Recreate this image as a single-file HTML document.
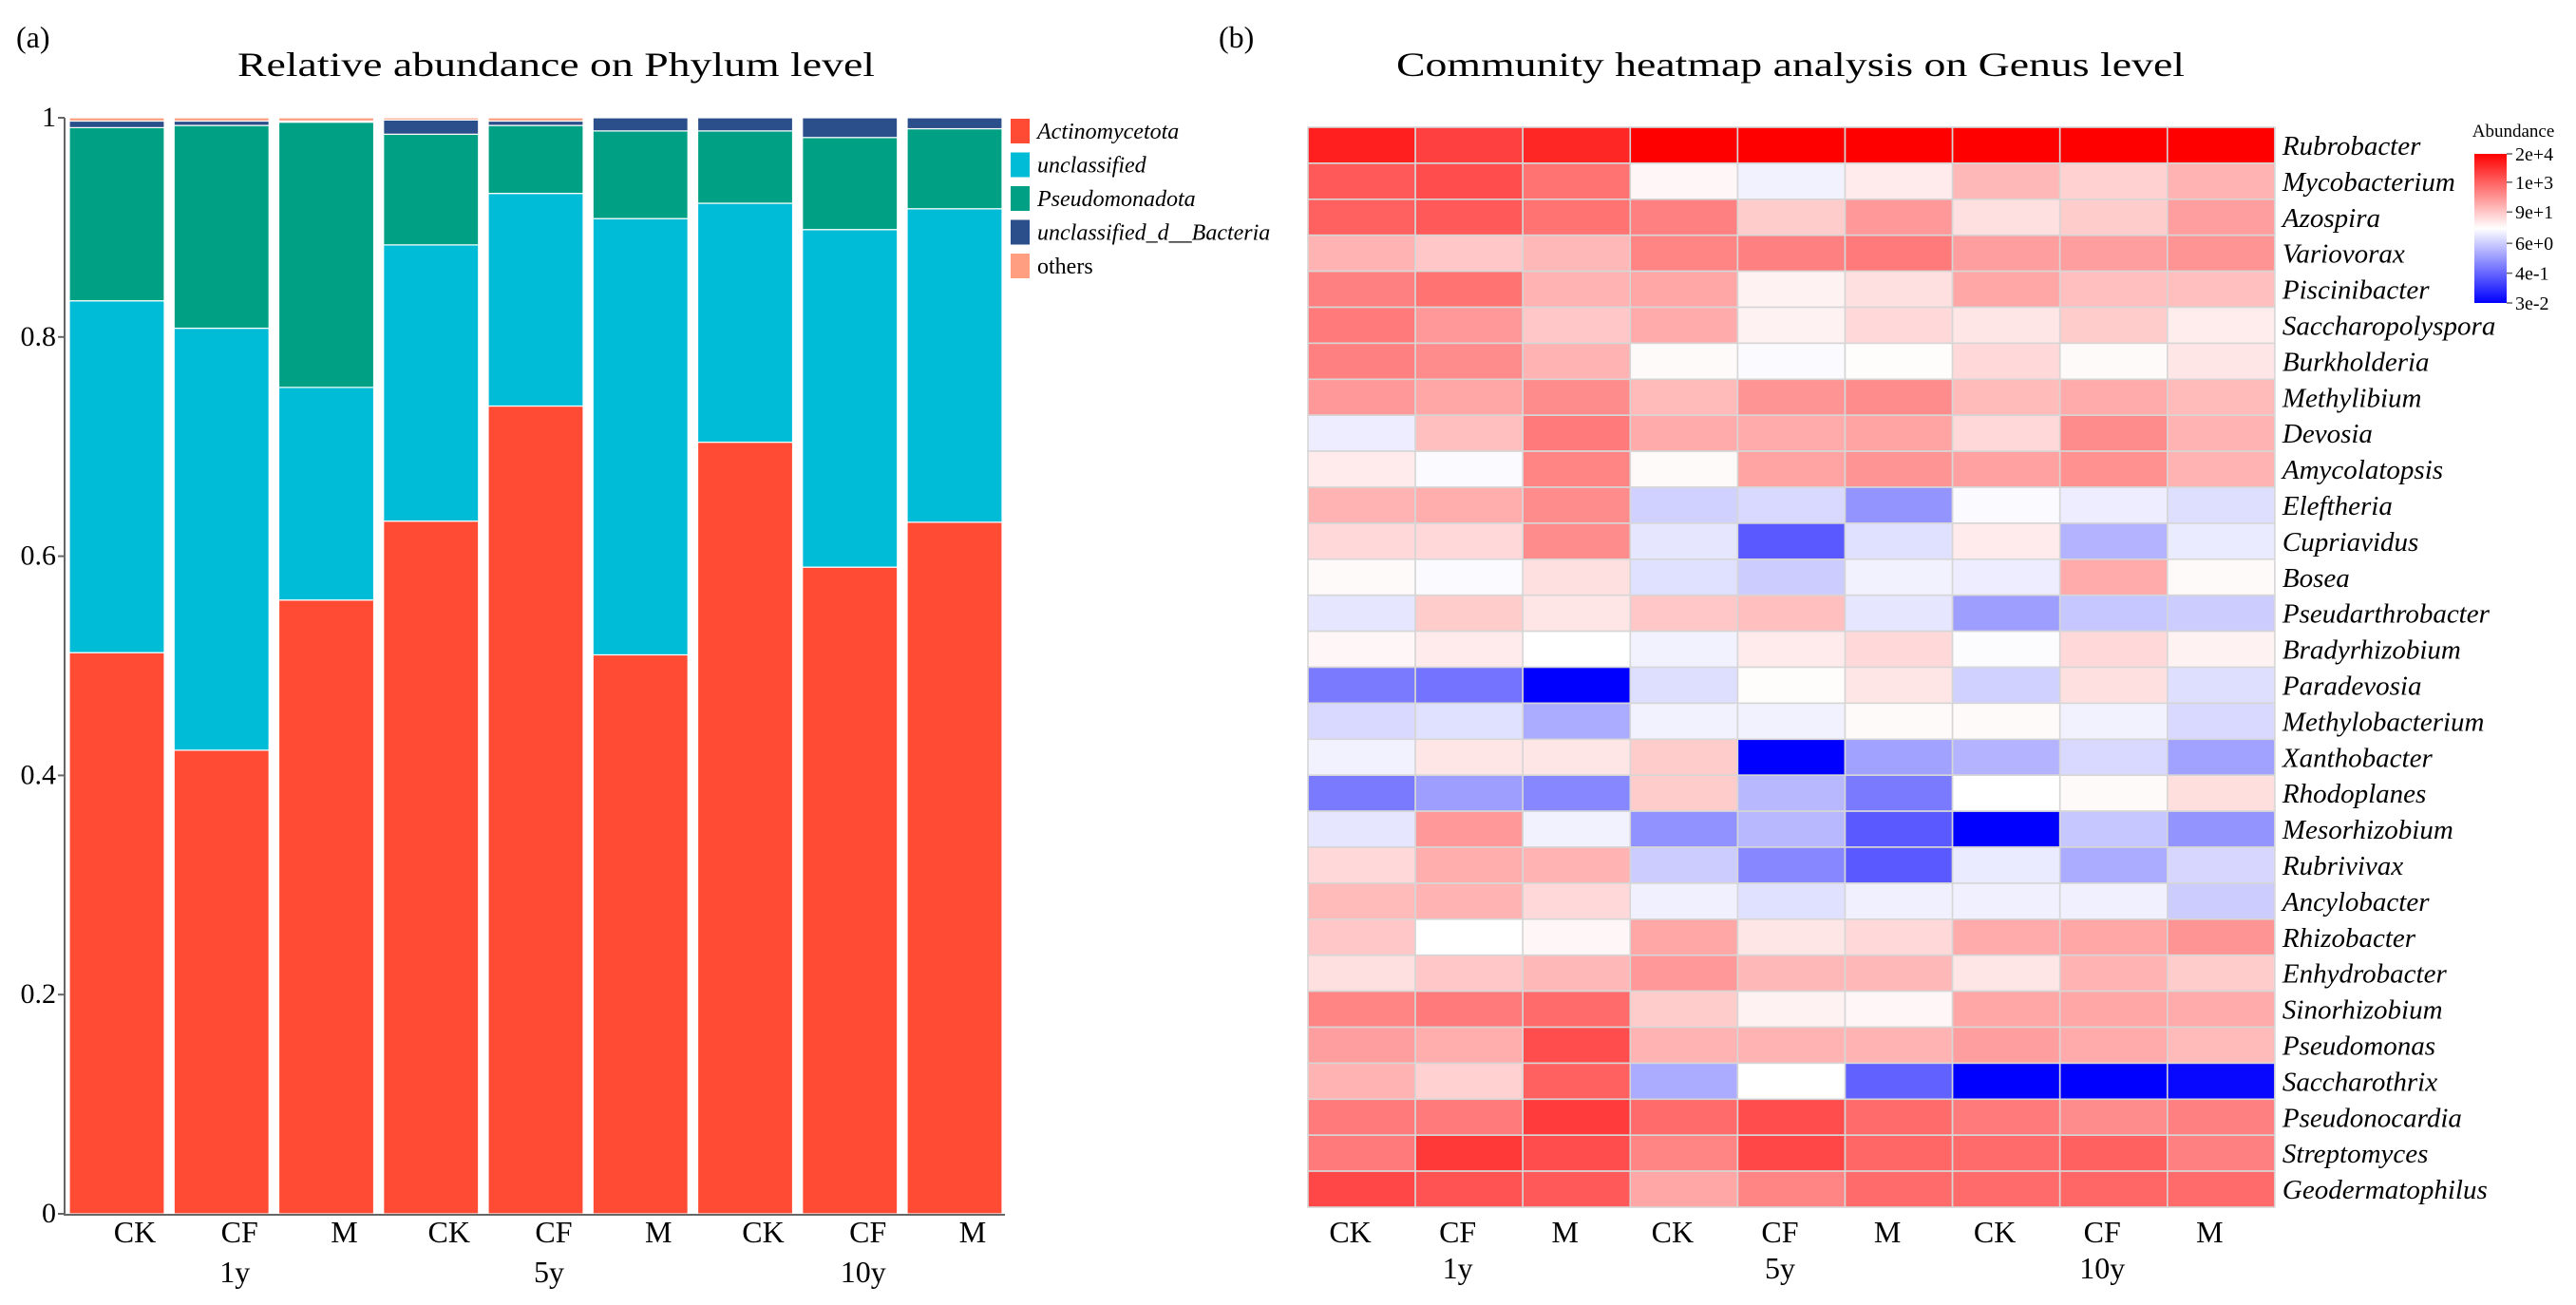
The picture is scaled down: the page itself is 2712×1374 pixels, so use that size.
<!DOCTYPE html>
<html><head><meta charset="utf-8"><style>
html,body{margin:0;padding:0;background:#fff;}
svg{display:block;font-family:"Liberation Serif",serif;}
</style></head><body>
<svg id="chart" width="2712" height="1374" viewBox="0 0 2712 1374" xmlns="http://www.w3.org/2000/svg">
<text x="17" y="50" font-size="32">(a)</text>
<text x="1283" y="50" font-size="32">(b)</text>
<text x="250" y="80" font-size="36" textLength="671" lengthAdjust="spacingAndGlyphs">Relative abundance on Phylum level</text>
<text x="1470" y="80" font-size="36" textLength="830" lengthAdjust="spacingAndGlyphs">Community heatmap analysis on Genus level</text>
<g id="bars"></g>
<g id="legend"></g>
<g id="heat"></g>
<g id="cbar"></g>
</svg>
<script>
// ---- Bar chart data ----
const barSamples = ["CK","CF","M","CK","CF","M","CK","CF","M"];
const groupLabels = ["1y","5y","10y"];
const phyla = ["Actinomycetota","unclassified","Pseudomonadota","unclassified_d__Bacteria","others"];
const actinomycetota = [0.512,0.423,0.560,0.632,0.737,0.510,0.704,0.590,0.631];
const unclassified   = [0.321,0.385,0.194,0.252,0.194,0.398,0.218,0.308,0.286];
const pseudomonadota = [0.158,0.185,0.242,0.101,0.062,0.080,0.066,0.084,0.073];
const bacteriaUncl   = [0.006,0.004,0.001,0.013,0.004,0.012,0.012,0.018,0.010];
const others         = [0.003,0.003,0.003,0.002,0.003,0.000,0.000,0.000,0.000];
const yTicks = [0,0.2,0.4,0.6,0.8,1];
const yTickLabels = ["0","0.2","0.4","0.6","0.8","1"];

// ---- Heatmap data (row-scaled abundance, -1 = min/blue, 1 = max/red) ----
const genera = ["Rubrobacter","Mycobacterium","Azospira","Variovorax","Piscinibacter","Saccharopolyspora","Burkholderia","Methylibium","Devosia","Amycolatopsis","Eleftheria","Cupriavidus","Bosea","Pseudarthrobacter","Bradyrhizobium","Paradevosia","Methylobacterium","Xanthobacter","Rhodoplanes","Mesorhizobium","Rubrivivax","Ancylobacter","Rhizobacter","Enhydrobacter","Sinorhizobium","Pseudomonas","Saccharothrix","Pseudonocardia","Streptomyces","Geodermatophilus"];
const heatSamples = ["CK","CF","M","CK","CF","M","CK","CF","M"];
const scaledAbundance = [
[0.88,0.75,0.85,1,1,1,1,1,1],
[0.65,0.7,0.55,0.03,-0.05,0.08,0.28,0.18,0.3],
[0.62,0.65,0.55,0.5,0.2,0.4,0.12,0.2,0.38],
[0.3,0.22,0.28,0.48,0.5,0.52,0.38,0.38,0.42],
[0.5,0.55,0.3,0.35,0.05,0.12,0.35,0.25,0.25],
[0.52,0.4,0.22,0.33,0.05,0.15,0.1,0.2,0.07],
[0.5,0.45,0.3,0.02,-0.02,0.01,0.15,0.02,0.1],
[0.4,0.35,0.45,0.27,0.42,0.45,0.27,0.33,0.27],
[-0.07,0.25,0.52,0.33,0.33,0.36,0.15,0.45,0.3],
[0.08,-0.02,0.48,0.02,0.36,0.42,0.37,0.43,0.3],
[0.3,0.32,0.45,-0.18,-0.15,-0.42,-0.02,-0.07,-0.13],
[0.15,0.15,0.45,-0.1,-0.65,-0.12,0.08,-0.3,-0.08],
[0.02,-0.02,0.12,-0.12,-0.2,-0.05,-0.07,0.33,0.02],
[-0.1,0.2,0.1,0.22,0.25,-0.1,-0.38,-0.22,-0.2],
[0.03,0.08,0.0,-0.05,0.08,0.15,-0.01,0.15,0.05],
[-0.52,-0.55,-1.0,-0.13,0.01,0.1,-0.18,0.12,-0.13],
[-0.15,-0.12,-0.33,-0.05,-0.05,0.02,0.02,-0.05,-0.15],
[-0.05,0.1,0.1,0.2,-1.0,-0.37,-0.3,-0.15,-0.37],
[-0.52,-0.38,-0.47,0.2,-0.28,-0.52,0.0,0.02,0.13],
[-0.1,0.4,-0.05,-0.43,-0.28,-0.65,-1.0,-0.22,-0.42],
[0.15,0.32,0.3,-0.2,-0.47,-0.65,-0.08,-0.33,-0.16],
[0.27,0.3,0.15,-0.06,-0.12,-0.06,-0.06,-0.06,-0.2],
[0.22,0.0,0.03,0.35,0.1,0.15,0.33,0.35,0.42],
[0.12,0.22,0.28,0.4,0.28,0.28,0.1,0.3,0.2],
[0.48,0.52,0.58,0.2,0.05,0.03,0.35,0.35,0.33],
[0.38,0.32,0.7,0.3,0.3,0.3,0.38,0.33,0.27],
[0.3,0.18,0.62,-0.33,0.0,-0.62,-1.0,-1.0,-0.97],
[0.52,0.52,0.77,0.58,0.7,0.58,0.52,0.45,0.5],
[0.52,0.78,0.7,0.48,0.72,0.6,0.58,0.62,0.5],
[0.72,0.68,0.65,0.35,0.48,0.58,0.58,0.6,0.58]
];
const cbarTickLabels = ["2e+4","1e+3","9e+1","6e+0","4e-1","3e-2"];
const cbarTickFrac = [0,0.19,0.39,0.60,0.80,1];

const NS = "http://www.w3.org/2000/svg";
function mk(tag, attrs, parent){const e=document.createElementNS(NS,tag);for(const k in attrs)e.setAttribute(k,attrs[k]);parent.appendChild(e);return e;}

// ---- Bar chart ----
const B = document.getElementById('bars');
const x0 = 73, pitch = 110.25, bw = 100, yBase = 1278, yTop = 124;
const yScale = v => yBase - v*(yBase-yTop);
const xBar = i => x0 + i*pitch;
const colors = ["#FF4B33","#00BCD6","#00A085","#2B4F8A","#FF9E80"];
const series = [actinomycetota, unclassified, pseudomonadota, bacteriaUncl, others];
for(let i=0;i<barSamples.length;i++){
  let cum=0;
  for(let s=0;s<series.length;s++){
    const v=series[s][i]; if(v<=0) continue;
    const r=mk('rect',{x:xBar(i),y:yScale(cum+v),width:bw,height:yScale(cum)-yScale(cum+v),fill:colors[s],stroke:'#fff','stroke-width':1.2},B);
    
    
    cum+=v;
  }
}
const ax = mk('path',{d:`M68 ${yTop} V1279 H1058`,stroke:'#666','stroke-width':2,fill:'none'},B);


for(let k=0;k<yTicks.length;k++){
  const y=yScale(yTicks[k]);
  const tk=mk('line',{x1:61,x2:68,y1:y,y2:y,stroke:'#666','stroke-width':2},B);
  
  
  const t=mk('text',{x:59,y:y+9,'font-size':30,'text-anchor':'end'},B);
  t.textContent=yTickLabels[k];
  
  
}
for(let i=0;i<barSamples.length;i++){
  const t=mk('text',{x:xBar(i)+bw/2+19,y:1308,'font-size':32,'text-anchor':'middle'},B);
  t.textContent=barSamples[i];
  
  
}
for(let g=0;g<groupLabels.length;g++){
  const t=mk('text',{x:xBar(g*3+1)+bw/2+14,y:1350,'font-size':32,'text-anchor':'middle'},B);
  t.textContent=groupLabels[g];
  
  
}
// legend
const L=document.getElementById('legend');
for(let s=0;s<phyla.length;s++){
  const y=125+s*35.5;
  const r=mk('rect',{x:1064,y:y,width:20,height:26,fill:colors[s]},L);
  
  
  const t=mk('text',{x:1092,y:y+21,'font-size':24,'font-style':s===4?'normal':'italic'},L);
  t.textContent=phyla[s];
  
  
}

// ---- Heatmap ----
const H=document.getElementById('heat');
const hx0=1377, cw=113.1, hy0=134, ch=37.9;
function color(v){
  let r,g,b;
  if(v>=0){r=255;g=b=Math.round(255*(1-v));}
  else{b=255;r=g=Math.round(255*(1+v));}
  return `rgb(${r},${g},${b})`;
}
for(let r=0;r<genera.length;r++){
  for(let c=0;c<heatSamples.length;c++){
    const cell=mk('rect',{x:hx0+c*cw,y:hy0+r*ch,width:cw,height:ch,fill:color(scaledAbundance[r][c]),stroke:'#d6d6d6','stroke-width':1.6},H);
    
    
  }
  const t=mk('text',{x:hx0+9*cw+8,y:hy0+r*ch+ch/2+10,'font-size':29,'font-style':'italic'},H);
  t.textContent=genera[r];
  
  
}
for(let c=0;c<heatSamples.length;c++){
  const t=mk('text',{x:hx0+c*cw+cw/2-12,y:1308,'font-size':32,'text-anchor':'middle'},H);
  t.textContent=heatSamples[c];
  
  
}
for(let g=0;g<groupLabels.length;g++){
  const t=mk('text',{x:hx0+(g*3+1)*cw+cw/2-12,y:1346,'font-size':32,'text-anchor':'middle'},H);
  t.textContent=groupLabels[g];
  
  
}
// colorbar
const C=document.getElementById('cbar');
const defs=mk('defs',{},C);
const lg=mk('linearGradient',{id:'cg',x1:0,y1:0,x2:0,y2:1},defs);
mk('stop',{offset:'0','stop-color':'#ff0000'},lg);
mk('stop',{offset:'0.5','stop-color':'#ffffff'},lg);
mk('stop',{offset:'1','stop-color':'#0000ff'},lg);
const cb=mk('rect',{x:2605,y:162,width:34,height:157,fill:'url(#cg)'},C);


const ct=mk('text',{x:2646,y:144,'font-size':19,'text-anchor':'middle'},C);
ct.textContent='Abundance';


for(let k=0;k<cbarTickLabels.length;k++){
  const y=162+cbarTickFrac[k]*157;
  const tk=mk('line',{x1:2639,x2:2645,y1:y,y2:y,stroke:'#666','stroke-width':1.5},C);
  
  
  const t=mk('text',{x:2648,y:y+7,'font-size':20},C);
  t.textContent=cbarTickLabels[k];
  
  
}
</script>
</body></html>
